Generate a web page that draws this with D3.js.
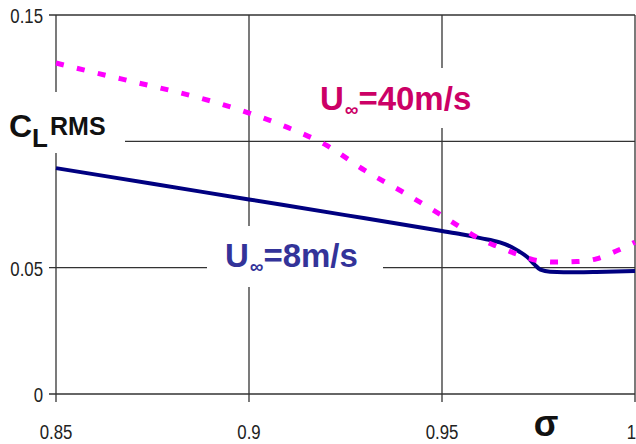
<!DOCTYPE html>
<html>
<head>
<meta charset="utf-8">
<script src="https://cdn.jsdelivr.net/npm/d3@7"></script>
<style>
  body { margin: 0; background: #fff; }
  svg { display: block; }
</style>
</head>
<body>
<div id="chart"></div>
<script>
// sigma values / C_L RMS
var sigma40 = [0.85, 0.86, 0.87, 0.88, 0.89, 0.9, 0.91, 0.92, 0.93, 0.94, 0.95, 0.955, 0.96, 0.965, 0.97, 0.975, 0.98, 0.985, 0.99, 0.995, 1.0];
var cl40 = [0.1310, 0.1272, 0.1236, 0.1200, 0.1160, 0.1112, 0.1055, 0.0985, 0.0885, 0.0798, 0.0706, 0.0658, 0.0612, 0.0580, 0.0550, 0.0527, 0.0522, 0.0524, 0.0535, 0.0565, 0.0601];

var sigma8 = [0.85, 0.875, 0.9, 0.925, 0.95, 0.955, 0.96, 0.965, 0.968, 0.970, 0.972, 0.974, 0.9755, 0.978, 0.985, 0.99, 1.0];
var cl8 = [0.0894, 0.0832, 0.0770, 0.0708, 0.0645, 0.0632, 0.0617, 0.0600, 0.0582, 0.0564, 0.0543, 0.0512, 0.0492, 0.0484, 0.0482, 0.0483, 0.0487];

var xTicks = [0.85, 0.9, 0.95, 1];
var xTickLabels = ["0.85", "0.9", "0.95", "1"];
var yTicks = [0, 0.05, 0.1, 0.15];
var yTickLabels = ["0", "0.05", "0.1", "0.15"];

var width = 636, height = 444;
var svg = d3.select("#chart").append("svg")
    .attr("width", width)
    .attr("height", height);

var x = d3.scaleLinear().domain([0.85, 1]).range([56, 635]);
var y = d3.scaleLinear().domain([0, 0.15]).range([394, 15]);

var gridColor = "#333";
var sans = "'Liberation Sans', Arial, sans-serif";
var squeeze = 0.8; // tick labels are a narrow face, fake it with a scale

// grid lines (with little outside ticks like excel)
svg.append("g").selectAll("line")
    .data(yTicks)
    .enter().append("line")
    .attr("x1", x(0.85) - 7).attr("x2", x(1))
    .attr("y1", function(d) { return y(d); })
    .attr("y2", function(d) { return y(d); })
    .attr("stroke", gridColor).attr("stroke-width", 1.3);

svg.append("g").selectAll("line")
    .data(xTicks)
    .enter().append("line")
    .attr("x1", function(d) { return x(d); })
    .attr("x2", function(d) { return x(d); })
    .attr("y1", y(0.15)).attr("y2", y(0) + 8)
    .attr("stroke", gridColor).attr("stroke-width", 1.3);

// tick labels
svg.append("g").selectAll("text")
    .data(xTicks)
    .enter().append("text")
    .attr("transform", function(d, i) {
      var px = i == xTicks.length - 1 ? x(d) + 1 : x(d);
      return "translate(" + px + ",439) scale(" + squeeze + ",1)";
    })
    .attr("text-anchor", function(d, i) { return i == xTicks.length - 1 ? "end" : "middle"; })
    .attr("font-family", sans)
    .attr("font-size", 21).attr("fill", "#222")
    .text(function(d, i) { return xTickLabels[i]; });

svg.append("g").selectAll("text")
    .data(yTicks.filter(function(d) { return d != 0.1; })) // 0.1 sits under the axis title
    .enter().append("text")
    .attr("transform", function(d) { return "translate(43," + (y(d) + 8) + ") scale(" + squeeze + ",1)"; })
    .attr("text-anchor", "end")
    .attr("font-family", sans)
    .attr("font-size", 21).attr("fill", "#222")
    .text(function(d) { return yTickLabels[yTicks.indexOf(d)]; });

// white boxes behind the labels (they cut the grid)
var boxes = [[0, 92, 125, 61], [207, 226, 176, 61], [302, 68, 192, 60]];
svg.append("g").selectAll("rect")
    .data(boxes)
    .enter().append("rect")
    .attr("x", function(d) { return d[0]; })
    .attr("y", function(d) { return d[1]; })
    .attr("width", function(d) { return d[2]; })
    .attr("height", function(d) { return d[3]; })
    .attr("fill", "#fff");

var line = d3.line()
    .x(function(d) { return x(d[0]); })
    .y(function(d) { return y(d[1]); })
    .curve(d3.curveMonotoneX);

svg.append("path")
    .datum(d3.zip(sigma8, cl8))
    .attr("d", line)
    .attr("fill", "none")
    .attr("stroke", "#000080")
    .attr("stroke-width", 4);

svg.append("path")
    .datum(d3.zip(sigma40, cl40))
    .attr("d", line)
    .attr("fill", "none")
    .attr("stroke", "#ff00ff")
    .attr("stroke-width", 5)
    .attr("stroke-dasharray", "8,13.5");

// axis titles
var yt = svg.append("text")
    .attr("x", 9).attr("y", 137)
    .attr("font-family", sans).attr("font-weight", "bold")
    .attr("font-size", 32).attr("fill", "#111");
yt.append("tspan").text("C");
yt.append("tspan").attr("font-size", 26).attr("dy", 10).text("L");
yt.append("tspan").attr("font-size", 25).attr("dy", -12).attr("dx", 2).text("RMS");

svg.append("text")
    .attr("x", 546).attr("y", 436)
    .attr("text-anchor", "middle")
    .attr("font-family", sans).attr("font-weight", "bold")
    .attr("font-size", 36).attr("fill", "#111")
    .text("σ");

// series labels
function seriesLabel(px, py, color, rest) {
  var t = svg.append("text")
      .attr("x", px).attr("y", py)
      .attr("font-family", sans).attr("font-weight", "bold")
      .attr("font-size", 33).attr("fill", color);
  t.append("tspan").text("U");
  t.append("tspan").attr("font-size", 19).attr("dy", 6).attr("dx", 1).text("∞");
  t.append("tspan").attr("dy", -6).text(rest);
}
seriesLabel(320, 110, "#cc0066", "=40m/s");
seriesLabel(225, 267, "#333399", "=8m/s");
</script>
</body>
</html>
